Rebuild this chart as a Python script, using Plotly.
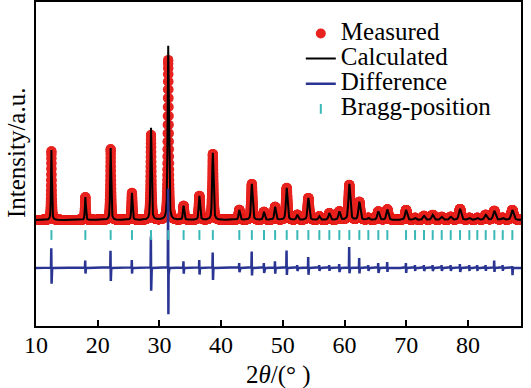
import numpy as np
import plotly.graph_objects as go

# ---- data ----
peak_pos = [12.5, 18.0, 22.1, 25.55, 28.64, 31.43, 33.92, 36.48, 38.66, 42.95,
            44.98, 46.95, 48.75, 50.63, 52.35, 54.14, 55.92, 57.54, 59.16, 60.78,
            62.40, 63.86, 65.48, 66.94, 69.97, 71.43, 72.88, 74.29, 75.75, 77.21,
            78.72, 80.23, 81.52, 82.88, 84.28, 85.64, 87.20]
calc_height = [70, 23, 72, 27, 92, 174, 14, 24, 67, 10,
               36, 8, 13, 32, 5, 22, 3.5, 6.7, 8.4, 36,
               18, 2, 8.4, 10.5, 10, 2, 4, 5, 3, 3,
               11, 2, 2, 5, 9, 2, 10]
meas_height = [69, 23, 71, 27, 85, 160, 14, 24, 66, 10,
               36, 8, 13, 32, 5, 22, 3.5, 6.7, 8.4, 35,
               18, 2, 8.4, 10.5, 10, 2, 4, 5, 3, 3,
               11, 2, 2, 5, 9, 2, 10]
diff_up = [20, 7.6, 17.6, 8, 32, 80, 6.7, 8, 15.6, 5,
           16.7, 5, 6.7, 17.6, 3, 11, 3, 3, 4, 21,
           10, 3, 5, 6, 5, 3, 3, 3, 3, 3,
           4, 3, 3, 3, 7.6, 3, 2]
diff_down = [16, 5.7, 13.4, 5.7, 23.4, 47.7, 5.7, 6.7, 12.3, 4.3,
             7.7, 5, 5.7, 7.3, 3, 7, 3, 3, 4, 5.7,
             5.7, 3, 5, 4, 5, 3, 3, 3, 3, 3,
             4, 3, 3, 3, 4, 3, 7.3]
bragg_pos = peak_pos

x_ticks = [10, 20, 30, 40, 50, 60, 70, 80]
x_range = [10, 88.6]
y_range = [-106, 218]
diff_offset = -48
bragg_level = -15


def profile(x, pos, heights):
    y = np.zeros_like(x)
    for p, h in zip(pos, heights):
        f = 0.15 + 0.004 * (p - 10)
        g = np.exp(-4 * np.log(2) * ((x - p) / f) ** 2)
        l = 1.0 / (1 + 4 * ((x - p) / f) ** 2)
        y += h * (0.5 * g + 0.5 * l)
    return y


def diff_profile(x, pos, up, down):
    y = np.zeros_like(x)
    s = 0.025
    for p, a, b in zip(pos, up, down):
        y += a * np.exp(-((x - p + s) / s) ** 2) - b * np.exp(-((x - p - s) / s) ** 2)
    return y


x_fine = np.arange(x_range[0], x_range[1], 0.005)
x_meas = np.arange(x_range[0], x_range[1], 0.01)

y_calc = profile(x_fine, peak_pos, calc_height)
y_meas = profile(x_meas, peak_pos, meas_height)
y_diff = diff_offset + diff_profile(x_fine, peak_pos, diff_up, diff_down)

serif = "Liberation Serif"
LEG = '<span style="font-size:25px">%s</span>'

fig = go.Figure()
fig.add_trace(go.Scatter(x=x_meas, y=y_meas, mode="markers", name=LEG % "Measured",
                         marker=dict(color="#e8231f", size=10, line=dict(width=0))))
fig.add_trace(go.Scatter(x=x_fine, y=y_calc, mode="lines", name=LEG % "Calculated",
                         line=dict(color="black", width=2)))
fig.add_trace(go.Scatter(x=x_fine, y=y_diff, mode="lines", name=LEG % "Difference",
                         line=dict(color="#2a3593", width=2.5)))
fig.add_trace(go.Scatter(x=bragg_pos, y=[bragg_level] * len(bragg_pos), mode="markers",
                         name=LEG % "Bragg-position",
                         marker=dict(symbol="line-ns", size=7, color="#39b8b8",
                                     line=dict(color="#39b8b8", width=2))))

fig.update_layout(
    width=531, height=388,
    margin=dict(l=36, r=10, t=2, b=62),
    paper_bgcolor="white", plot_bgcolor="white",
    font=dict(family=serif, color="black", size=21),
    showlegend=True,
    legend=dict(x=0.546, y=0.957, xanchor="left", yanchor="top",
                bgcolor="rgba(0,0,0,0)", borderwidth=0,
                font=dict(family=serif, size=17, color="black"),
                itemsizing="trace"),
    xaxis=dict(range=x_range, tickvals=x_ticks, ticktext=[str(v) for v in x_ticks],
               ticks="inside", ticklen=6, tickwidth=1.5, tickcolor="black",
               showline=True, linecolor="black", linewidth=1.5, mirror=True,
               showgrid=False, zeroline=False, automargin=False,
               ticklabelstandoff=-4,
               tickfont=dict(family=serif, size=24, color="black")),
    yaxis=dict(range=y_range, showticklabels=False, ticks="",
               showline=True, linecolor="black", linewidth=1.5, mirror=True,
               showgrid=False, zeroline=False, automargin=False),
    annotations=[
        dict(text="2<i>θ</i>/(° )", xref="paper", yref="paper", x=0.5, y=-0.151,
             xanchor="center", yanchor="middle", showarrow=False,
             font=dict(family=serif, size=25, color="black")),
        dict(text="Intensity/a.u.", xref="paper", yref="paper", x=-0.039, y=0.534,
             xanchor="center", yanchor="middle", textangle=-90, showarrow=False,
             font=dict(family=serif, size=25, color="black")),
    ],
)

fig.write_html("out.html", post_script="document.body.style.margin='0';",
               config={"displayModeBar": False})
